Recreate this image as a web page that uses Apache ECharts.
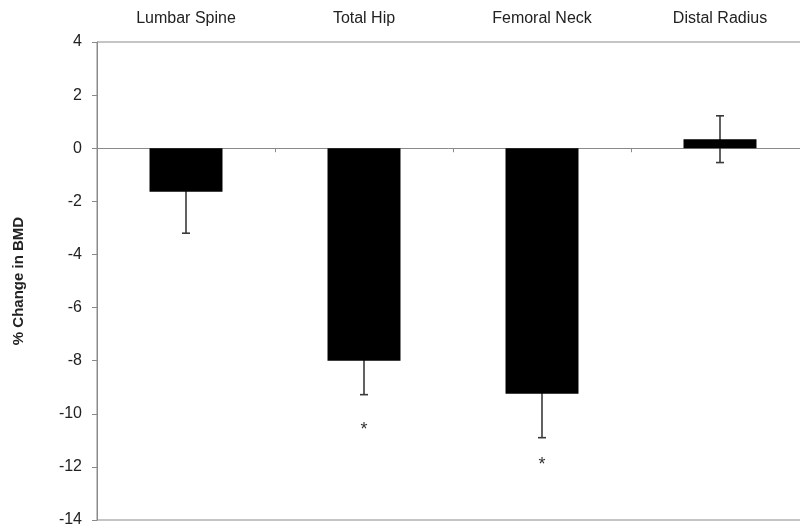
<!DOCTYPE html>
<html>
<head>
<meta charset="utf-8">
<script src="https://cdn.jsdelivr.net/npm/echarts@6/dist/echarts.min.js"></script>
<style>
  html, body { margin: 0; padding: 0; background: #fff; }
  #chart { width: 800px; height: 525px; }
</style>
</head>
<body>
<div id="chart"></div>
<script>
// Skeletal sites
const sites = ['Lumbar Spine', 'Total Hip', 'Femoral Neck', 'Distal Radius'];
// Mean % change in BMD and its error (± SD/SE)
const meanChange = [-1.64, -8.0, -9.25, 0.34];
const errorSize = [1.56, 1.28, 1.65, 0.88];
// Significance markers: site index and vertical position of the asterisk
const sigSites = [1, 2];
const sigMarkY = [-10.5, -11.8];
// Y axis scale
const yMin = -14, yMax = 4, yStep = 2;

const font = '"Liberation Sans", Arial, sans-serif';
const axisGray = '#8a8a8a';
const textColor = '#222';

const errData = meanChange.map((v, i) => [i, v, errorSize[i]]);
const sigData = sigSites.map((s, i) => [s, sigMarkY[i]]);

const chart = echarts.init(document.getElementById('chart'), null, { renderer: 'canvas' });

chart.setOption({
  animation: false,
  backgroundColor: '#fff',
  textStyle: { fontFamily: font },
  // plot area runs a little past the right edge of the canvas
  grid: {
    left: 97, top: 42, width: 712, bottom: 5,
    outerBoundsMode: 'none',
    containLabel: false,
    show: true, borderColor: axisGray, borderWidth: 1, backgroundColor: 'transparent'
  },
  xAxis: [
    {
      type: 'category',
      data: sites,
      position: 'bottom',
      axisLine: { onZero: true, lineStyle: { color: axisGray, width: 1 } },
      axisTick: { show: true, length: 4, lineStyle: { color: axisGray } },
      axisLabel: { show: false },
      splitLine: { show: false }
    },
    {
      type: 'category',
      data: sites,
      position: 'top',
      axisLine: { show: false, onZero: false },
      axisTick: { show: false },
      axisLabel: { show: true, color: textColor, fontSize: 16, fontFamily: font, margin: 15 },
      splitLine: { show: false }
    }
  ],
  yAxis: {
    type: 'value',
    min: yMin, max: yMax, interval: yStep,
    name: '% Change in BMD',
    nameLocation: 'middle',
    nameGap: 71,
    nameTextStyle: { color: textColor, fontSize: 15, fontWeight: 'bold', fontFamily: font },
    axisLine: { show: true, lineStyle: { color: axisGray, width: 1 } },
    axisTick: { show: true, length: 5, lineStyle: { color: axisGray } },
    axisLabel: { color: textColor, fontSize: 16, fontFamily: font, margin: 15 },
    splitLine: { show: false }
  },
  series: [
    {
      // error bars drawn beneath the bars so the inner half is hidden
      type: 'custom',
      xAxisIndex: 0,
      z: 1,
      data: errData,
      renderItem: function (params, api) {
        const i = api.value(0), v = api.value(1), e = api.value(2);
        const hi = api.coord([i, v + e]);
        const lo = api.coord([i, v - e]);
        const cap = 4;
        const style = { stroke: '#3a3a3a', lineWidth: 1.6 };
        return {
          type: 'group',
          children: [
            { type: 'line', shape: { x1: hi[0], y1: hi[1], x2: lo[0], y2: lo[1] }, style: style },
            { type: 'line', shape: { x1: hi[0] - cap, y1: hi[1], x2: hi[0] + cap, y2: hi[1] }, style: style },
            { type: 'line', shape: { x1: lo[0] - cap, y1: lo[1], x2: lo[0] + cap, y2: lo[1] }, style: style }
          ]
        };
      }
    },
    {
      type: 'bar',
      xAxisIndex: 0,
      z: 2,
      data: meanChange,
      barWidth: '41%',
      itemStyle: { color: '#000' }
    },
    {
      // significance asterisks
      type: 'custom',
      xAxisIndex: 0,
      z: 3,
      data: sigData,
      renderItem: function (params, api) {
        const p = api.coord([api.value(0), api.value(1)]);
        return {
          type: 'text',
          x: p[0], y: p[1] + 3,
          style: {
            text: '*', fill: '#333', font: '18px ' + font,
            align: 'center', verticalAlign: 'middle'
          }
        };
      }
    }
  ]
});
</script>
</body>
</html>
